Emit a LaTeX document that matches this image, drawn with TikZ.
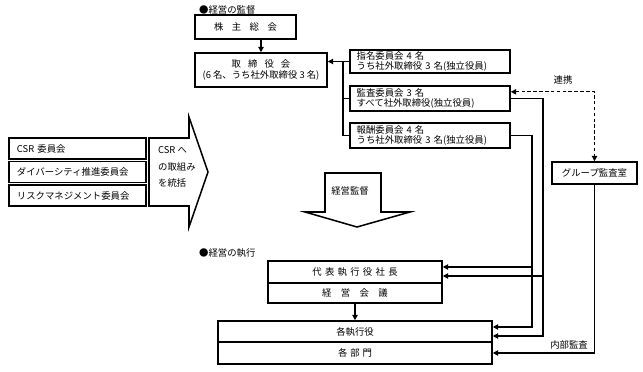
\documentclass[tikz,border=0pt]{standalone}
\usepackage{fontspec}
\setmainfont{Noto Sans CJK JP}
\usetikzlibrary{arrows.meta}

\begin{document}
\begin{tikzpicture}[
    x=0.03cm, y=-0.03cm,
    box/.style={
        draw, line width=1.3pt, inner sep=1pt, align=center,
        font=\fontsize{8}{9}\selectfont,
    },
    combox/.style={
        box, minimum width=4.8cm, minimum height=0.72cm,
        inner xsep=0.2cm, text width=4.4cm, align=left,
        font=\fontsize{8}{8.6}\selectfont,
    },
    csrbox/.style={
        box, minimum width=4.11cm, minimum height=0.63cm,
        inner xsep=0.24cm, text width=3.63cm, align=left,
    },
    link/.style={line width=1pt},
    arr/.style={link, -{Triangle[length=4.5pt,width=4.5pt]}},
    darr/.style={link, {Triangle[length=4.5pt,width=4.5pt]}-{Triangle[length=4.5pt,width=4.5pt]},
        dash pattern=on 3pt off 2pt},
    lbl/.style={font=\fontsize{8}{9}\selectfont},
]
\useasboundingbox (0,0) rectangle (643,372);

% ════════════════════════════════════════
% Supervision (top)
% ════════════════════════════════════════
\node[lbl, anchor=west] (supervise) at (195, 10) {●経営の監督};

\node[box, minimum width=3.03cm, minimum height=0.72cm] (kabunushi) at (245.5, 27)
    {株\hspace{0.9em}主\hspace{0.9em}総\hspace{0.9em}会};
\node[box, minimum width=3.96cm, minimum height=1.02cm] (torishimari) at (261, 70)
    {取\hspace{0.75em}締\hspace{0.75em}役\hspace{0.75em}会\\(6 名、うち社外取締役 3 名)};

\draw[arr] (kabunushi.south -| torishimari.north) -- (torishimari.north);

% committees
\node[combox, minimum height=0.69cm] (shimei) at (430, 61.5)
    {指名委員会 4 名\\うち社外取締役 3 名(独立役員)};
\node[combox, minimum height=0.75cm] (kansa) at (430, 98.5)
    {監査委員会 3 名\\すべて社外取締役(独立役員)};
\node[combox, minimum height=0.75cm] (houshu) at (430, 135.5)
    {報酬委員会 4 名\\うち社外取締役 3 名(独立役員)};

\coordinate (trunk) at (343, 0);
\draw[arr] (shimei.west) -- (shimei.west -| torishimari.east);
\draw[link] (shimei.west -| trunk) |- (houshu.west);
\draw[link] (trunk |- kansa.west) -- (kansa.west);

% group audit office
\node[box, minimum width=2.55cm, minimum height=0.66cm] (groupaudit) at (594.5, 173) {グループ監査室};
\draw[darr] ([yshift=0.2cm]kansa.east) -| (groupaudit.north);
\node[lbl] (renkei) at (563, 80) {連携};

% ════════════════════════════════════════
% CSR committees
% ════════════════════════════════════════
\node[csrbox] (csr) at (77.5, 148.5) {CSR 委員会};
\node[csrbox] (diversity) at (77.5, 172) {ダイバーシティ推進委員会};
\node[csrbox] (risk) at (77.5, 195.5) {リスクマネジメント委員会};

\draw[line width=1.3pt] (149,138) -- (189,138) -- (189,117) -- (208,172)
    -- (189,227) -- (189,206) -- (149,206) -- cycle;
\node[lbl, font=\fontsize{8}{14}\selectfont, align=left, anchor=west] (csrtext) at (154, 167)
    {CSR へ\\の取組み\\を統括};

% ════════════════════════════════════════
% Big down arrow
% ════════════════════════════════════════
\draw[line width=1.3pt] (325,173) -- (381,173) -- (381,212) -- (410,212) -- (357,227)
    -- (305,212) -- (325,212) -- cycle;
\node[lbl] (kantoku) at (350, 191) {経営監督};

% ════════════════════════════════════════
% Execution (bottom)
% ════════════════════════════════════════
\node[lbl, anchor=west] (execute) at (195, 253) {●経営の執行};

\node[box, minimum width=5.22cm, minimum height=0.66cm] (daihyo) at (355, 272)
    {代\hspace{0.35em}表\hspace{0.35em}執\hspace{0.35em}行\hspace{0.35em}役\hspace{0.35em}社\hspace{0.35em}長};
\node[box, minimum width=5.22cm, minimum height=0.6cm] (kaigi) at (355, 293)
    {経\hspace{1em}営\hspace{1em}会\hspace{1em}議};
\node[box, minimum width=8.22cm, minimum height=0.63cm] (shikkou) at (355, 331.5) {各執行役};
\node[box, minimum width=8.22cm, minimum height=0.66cm] (bumon) at (355, 353)
    {各\hspace{0.3em}部\hspace{0.3em}門};

\draw[arr] (kaigi.south) -- (shikkou.north);

% reporting lines from the committees
\coordinate (railA) at (532, 0);
\coordinate (railB) at (543, 0);
\coordinate (dA) at ([yshift=0.15cm]daihyo.east);
\coordinate (dB) at ([yshift=-0.12cm]daihyo.east);
\coordinate (sA) at ([yshift=0.135cm]shikkou.east);
\coordinate (sB) at ([yshift=-0.135cm]shikkou.east);

\draw[arr] (houshu.east) -| (railA |- sA) -- (sA);
\draw[arr] (railA |- dA) -- (dA);
\draw[arr] (kansa.east) -| (railB |- sB) -- (sB);
\draw[arr] (railB |- dB) -- (dB);

% internal audit
\draw[arr] (groupaudit.south) |- (bumon.east);
\node[lbl] (naibu) at (569, 345) {内部監査};

\end{tikzpicture}
\end{document}
